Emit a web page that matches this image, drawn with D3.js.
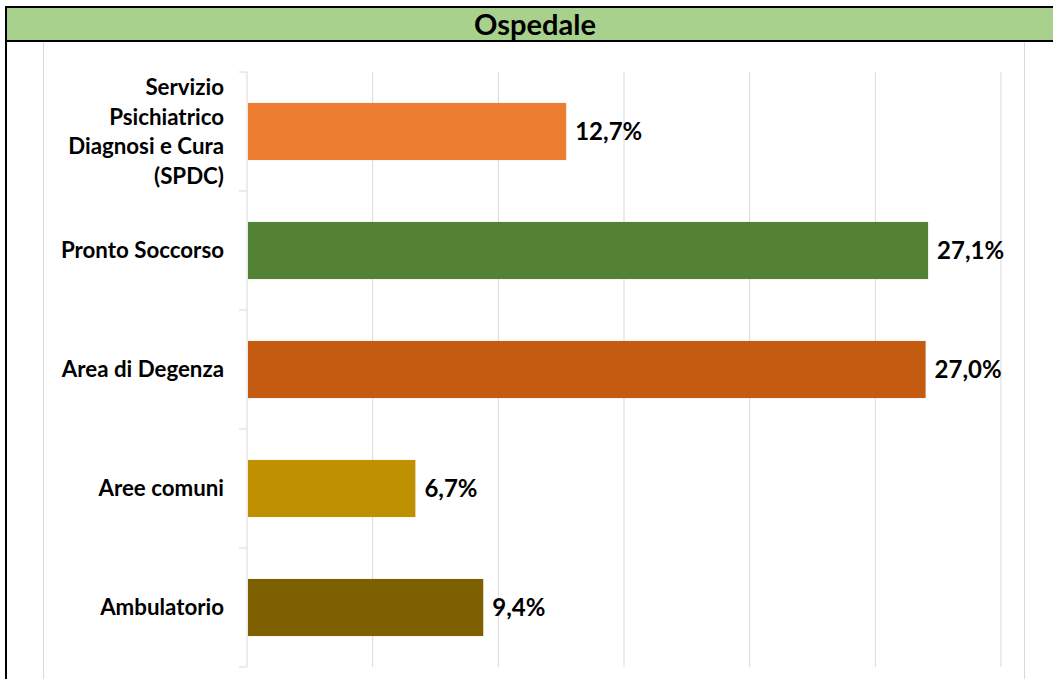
<!doctype html>
<meta charset='utf-8'>
<style>
  body { margin: 0; background: #fff; }
  text { font-family: Lato, 'Open Sans', sans-serif; }
</style>
<body>
<script src='https://cdn.jsdelivr.net/npm/d3@7/dist/d3.min.js'></script>
<script>

var categories = ['Servizio Psichiatrico Diagnosi e Cura (SPDC)', 'Pronto Soccorso', 'Area di Degenza', 'Aree comuni', 'Ambulatorio'];
var labelLines = [['Servizio', 'Psichiatrico', 'Diagnosi e Cura', '(SPDC)'], ['Pronto Soccorso'], ['Area di Degenza'], ['Aree comuni'], ['Ambulatorio']];
var values = [12.7, 27.1, 27.0, 6.7, 9.4];
var colors = ['#ED7D31', '#548235', '#C55A11', '#BF9000', '#7F6000'];
var xTicks = [0, 5, 10, 15, 20, 25, 30];
var title = 'Ospedale';

var width = 1053, height = 679;

var svg = d3.select('body').append('svg')
    .attr('width', width)
    .attr('height', height);

// chart area (light border)
svg.append('rect')
    .attr('x', 43.5).attr('y', 41.5)
    .attr('width', 981).attr('height', 660)
    .attr('fill', '#fff')
    .attr('stroke', '#d9d9d9').attr('stroke-width', 1);

// title box
svg.append('rect')
    .attr('x', 6).attr('y', 7)
    .attr('width', 1060).attr('height', 34)
    .attr('fill', '#A9D18E')
    .attr('stroke', '#000').attr('stroke-width', 2);

// outer left border
svg.append('line')
    .attr('x1', 6).attr('x2', 6)
    .attr('y1', 6).attr('y2', height)
    .attr('stroke', '#000').attr('stroke-width', 2);

svg.append('text')
    .attr('x', 535).attr('y', 25)
    .attr('dy', '0.35em')
    .attr('text-anchor', 'middle')
    .style('font-size', '29px')
    .style('font-weight', 'bold')
    .text(title);

var x = d3.scaleLinear().domain([0, 30]).range([247, 1001]);
var y = d3.scaleBand().domain(categories).range([72, 667])
    .paddingInner(0.52).paddingOuter(0.26);

// gridlines
svg.append('g').selectAll('line')
    .data(xTicks.slice(1))
    .enter().append('line')
    .attr('x1', function(d) { return x(d); })
    .attr('x2', function(d) { return x(d); })
    .attr('y1', 72).attr('y2', 667)
    .attr('stroke', '#d9d9d9').attr('stroke-width', 1);

// axis line
svg.append('line')
    .attr('x1', x(0)).attr('x2', x(0))
    .attr('y1', 72).attr('y2', 667)
    .attr('stroke', '#d9d9d9').attr('stroke-width', 1);

// tick marks between bands
svg.append('g').selectAll('line')
    .data(d3.range(categories.length + 1))
    .enter().append('line')
    .attr('x1', x(0) - 8).attr('x2', x(0))
    .attr('y1', function(i) { return 72 + i * (595 / categories.length); })
    .attr('y2', function(i) { return 72 + i * (595 / categories.length); })
    .attr('stroke', '#d9d9d9').attr('stroke-width', 1);

// bars
svg.append('g').selectAll('rect')
    .data(values)
    .enter().append('rect')
    .attr('x', x(0) + 1)
    .attr('y', function(d, i) { return y(categories[i]); })
    .attr('width', function(d) { return x(d) - x(0) - 1; })
    .attr('height', y.bandwidth())
    .attr('fill', function(d, i) { return colors[i]; });

// value labels
svg.append('g').selectAll('text')
    .data(values)
    .enter().append('text')
    .attr('x', function(d) { return x(d) + 9; })
    .attr('y', function(d, i) { return y(categories[i]) + y.bandwidth() / 2; })
    .attr('dy', '0.35em')
    .style('font-size', '24px')
    .style('font-weight', 'bold')
    .text(function(d) { return d.toFixed(1).replace('.', ',') + '%'; });

// category labels
var lineH = 29.5;
var lbl = svg.append('g').selectAll('text')
    .data(categories)
    .enter().append('text')
    .attr('text-anchor', 'end')
    .style('font-size', '22.3px')
    .style('font-weight', 'bold');

lbl.each(function(d, i) {
  var lines = labelLines[i];
  var t = d3.select(this);
  var cy = y(d) + y.bandwidth() / 2;
  lines.forEach(function(s, j) {
    t.append('tspan')
      .attr('x', 224)
      .attr('y', cy + (j - (lines.length - 1) / 2) * lineH)
      .attr('dy', '0.35em')
      .text(s);
  });
});

</script>
</body>
